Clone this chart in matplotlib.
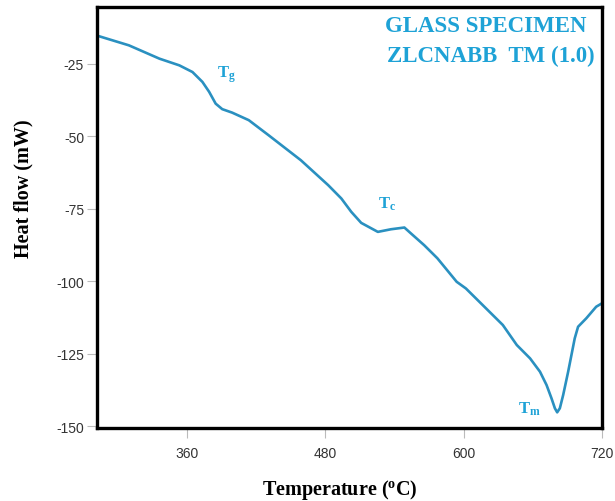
import numpy as np
import matplotlib
matplotlib.use("Agg")
import matplotlib.pyplot as plt

# DSC curve
temperature = [282, 310, 336.5, 353.7, 365.1, 373.7, 379.5, 385.2, 390.9, 399.5,
               413.9, 431.1, 459, 482.7, 494.1, 502.7, 511.3, 525.7, 537.1, 548.7,
               554.3, 565.9, 577.3, 594, 602, 634, 646.1, 657.6, 666.2, 671.9,
               676.2, 679.1, 681.1, 683.4, 686.3, 690.6, 696.3, 699.2, 706.3,
               714.9, 720]
heat_flow = [-15.3, -18.7, -23.3, -25.6, -27.9, -31.3, -34.7, -38.8, -40.7, -41.9,
             -44.5, -49.7, -58.3, -66.9, -71.5, -76.1, -79.9, -83.0, -82.1, -81.5,
             -83.5, -87.6, -92.1, -100.2, -102.5, -115.1, -122.0, -126.6, -131.2,
             -135.8, -140.4, -143.8, -145.2, -143.8, -139.2, -131.2, -119.7,
             -115.7, -112.8, -108.8, -107.6]

x_ticks = [360, 480, 600, 720]
y_ticks = [-25, -50, -75, -100, -125, -150]

peaks = {"Tg": (394.5, -28.4, r"T$_{\rm g}$"),
         "Tc": (534, -73.2, r"T$_{\rm c}$"),
         "Tm": (657, -143.8, r"T$_{\rm m}$")}

plt.rcParams["axes.unicode_minus"] = False
plt.rcParams["mathtext.fontset"] = "custom"
plt.rcParams["mathtext.rm"] = "Liberation Serif:bold"
plt.rcParams["mathtext.it"] = "Liberation Serif:bold"
plt.rcParams["mathtext.bf"] = "Liberation Serif:bold"

line_color = "#2a90c0"
text_color = "#1ea2d6"

fig = plt.figure(figsize=(6.15, 5.02), dpi=100)
ax = fig.add_axes([0.157, 0.146, 0.822, 0.838])

ax.plot(temperature, heat_flow, color=line_color, lw=1.9)

ax.set_xlim(282, 720)
ax.set_ylim(-150.5, -5.5)
ax.set_xticks(x_ticks)
ax.set_yticks(y_ticks)

for s in ax.spines.values():
    s.set_linewidth(2.4)
    s.set_color("black")

ax.tick_params(axis="both", direction="out", length=7, width=0.8, color="#bbbbbb",
               labelcolor="#333333", labelsize=10)
ax.tick_params(axis="y", pad=2)
ax.tick_params(axis="x", pad=6)
for lab in ax.get_xticklabels() + ax.get_yticklabels():
    lab.set_family("Liberation Sans")

# axis titles sit a bit off-centre in the original
fig.text(339.5 / 615, 1 - 490 / 502, r"Temperature ($^{\rm o}$C)",
         family="Liberation Serif", fontweight="bold", fontsize=14.5,
         ha="center", va="center")
fig.text(23 / 615, 1 - 189 / 502, "Heat flow (mW)", family="Liberation Serif",
         fontweight="bold", fontsize=14.5, ha="center", va="center", rotation=90)

for key, (x, y, lbl) in peaks.items():
    ax.text(x, y, lbl, color=text_color, fontsize=12, ha="center", va="center",
            family="Liberation Serif", fontweight="bold")

ax.text(0.5705, 0.955, "GLASS SPECIMEN", transform=ax.transAxes, ha="left",
        va="center", color=text_color, fontsize=16.5, family="Liberation Serif",
        fontweight="bold")
ax.text(0.5745, 0.885, "ZLCNABB  TM (1.0)", transform=ax.transAxes, ha="left",
        va="center", color=text_color, fontsize=16.5, family="Liberation Serif",
        fontweight="bold")

fig.savefig("out.png", dpi=100)
